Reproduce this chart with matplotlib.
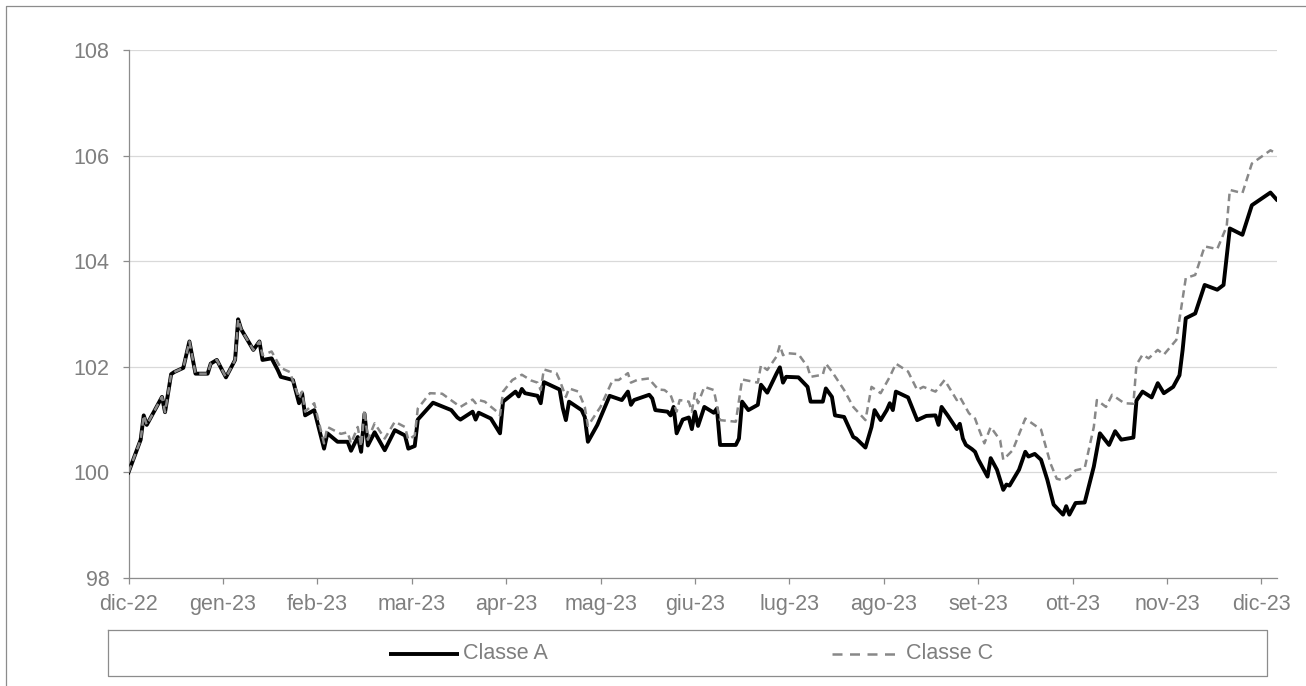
import calendar
import datetime as dt

import matplotlib
matplotlib.use("Agg")
import matplotlib.pyplot as plt

# ---------------------------------------------------------------- data
month_labels = ["dic-22", "gen-23", "feb-23", "mar-23", "apr-23", "mag-23", "giu-23",
                "lug-23", "ago-23", "set-23", "ott-23", "nov-23", "dic-23"]

series_names = ["Classe A", "Classe C"]

a_dates = [
    "2022-12-01", "2022-12-05", "2022-12-06", "2022-12-07", "2022-12-12", "2022-12-13",
    "2022-12-15", "2022-12-16", "2022-12-19", "2022-12-21", "2022-12-23", "2022-12-27",
    "2022-12-28", "2022-12-30", "2023-01-02", "2023-01-05", "2023-01-06", "2023-01-07",
    "2023-01-11", "2023-01-13", "2023-01-14", "2023-01-17", "2023-01-19", "2023-01-20",
    "2023-01-24", "2023-01-26", "2023-01-27", "2023-01-28", "2023-01-31", "2023-02-03",
    "2023-02-04", "2023-02-07", "2023-02-10", "2023-02-11", "2023-02-13", "2023-02-14",
    "2023-02-15", "2023-02-16", "2023-02-18", "2023-02-21", "2023-02-24", "2023-02-27",
    "2023-02-28", "2023-03-02", "2023-03-03", "2023-03-08", "2023-03-14", "2023-03-16",
    "2023-03-17", "2023-03-21", "2023-03-22", "2023-03-23", "2023-03-27", "2023-03-30",
    "2023-03-31", "2023-04-04", "2023-04-05", "2023-04-06", "2023-04-07", "2023-04-11",
    "2023-04-12", "2023-04-13", "2023-04-18", "2023-04-19", "2023-04-20", "2023-04-21",
    "2023-04-25", "2023-04-26", "2023-04-27", "2023-04-30", "2023-05-04", "2023-05-08",
    "2023-05-10", "2023-05-11", "2023-05-12", "2023-05-17", "2023-05-18", "2023-05-19",
    "2023-05-23", "2023-05-24", "2023-05-25", "2023-05-26", "2023-05-28", "2023-05-30",
    "2023-05-31", "2023-06-01", "2023-06-02", "2023-06-04", "2023-06-07", "2023-06-08",
    "2023-06-09", "2023-06-14", "2023-06-15", "2023-06-16", "2023-06-18", "2023-06-21",
    "2023-06-22", "2023-06-24", "2023-06-27", "2023-06-28", "2023-06-29", "2023-06-30",
    "2023-07-04", "2023-07-07", "2023-07-08", "2023-07-12", "2023-07-13", "2023-07-15",
    "2023-07-16", "2023-07-19", "2023-07-22", "2023-07-23", "2023-07-26", "2023-07-28",
    "2023-07-29", "2023-07-31", "2023-08-02", "2023-08-03", "2023-08-04", "2023-08-05",
    "2023-08-09", "2023-08-12", "2023-08-15", "2023-08-18", "2023-08-19", "2023-08-20",
    "2023-08-22", "2023-08-25", "2023-08-26", "2023-08-27", "2023-08-28", "2023-08-30",
    "2023-08-31", "2023-09-01", "2023-09-04", "2023-09-05", "2023-09-07", "2023-09-09",
    "2023-09-10", "2023-09-11", "2023-09-14", "2023-09-16", "2023-09-17", "2023-09-19",
    "2023-09-21", "2023-09-23", "2023-09-25", "2023-09-28", "2023-09-29", "2023-09-30",
    "2023-10-02", "2023-10-05", "2023-10-08", "2023-10-10", "2023-10-13", "2023-10-15",
    "2023-10-17", "2023-10-21", "2023-10-22", "2023-10-24", "2023-10-27", "2023-10-29",
    "2023-10-31", "2023-11-03", "2023-11-05", "2023-11-06", "2023-11-07", "2023-11-10",
    "2023-11-13", "2023-11-17", "2023-11-19", "2023-11-21", "2023-11-25", "2023-11-28",
    "2023-12-04", "2023-12-06",
]
a_values = [
    100.00, 100.62, 101.08, 100.90, 101.43, 101.14,
    101.86, 101.90, 101.98, 102.48, 101.87, 101.87,
    102.06, 102.13, 101.80, 102.13, 102.90, 102.71,
    102.32, 102.48, 102.13, 102.16, 101.94, 101.81,
    101.75, 101.31, 101.50, 101.08, 101.18, 100.45,
    100.74, 100.58, 100.58, 100.41, 100.67, 100.39,
    101.11, 100.51, 100.76, 100.42, 100.80, 100.70,
    100.45, 100.50, 101.00, 101.32, 101.18, 101.04,
    101.00, 101.15, 101.00, 101.13, 101.02, 100.74,
    101.34, 101.53, 101.44, 101.58, 101.50, 101.45,
    101.31, 101.71, 101.57, 101.22, 100.99, 101.34,
    101.18, 101.05, 100.58, 100.90, 101.45, 101.37,
    101.53, 101.28, 101.37, 101.47, 101.40, 101.18,
    101.15, 101.08, 101.24, 100.74, 101.00, 101.04,
    100.82, 101.15, 100.88, 101.24, 101.13, 101.21,
    100.52, 100.52, 100.64, 101.34, 101.18, 101.28,
    101.66, 101.51, 101.88, 101.99, 101.70, 101.81,
    101.80, 101.62, 101.34, 101.34, 101.59, 101.43,
    101.08, 101.05, 100.67, 100.64, 100.47, 100.86,
    101.18, 100.99, 101.18, 101.31, 101.18, 101.53,
    101.42, 100.99, 101.07, 101.08, 100.90, 101.24,
    101.08, 100.82, 100.92, 100.64, 100.52, 100.44,
    100.39, 100.25, 99.92, 100.27, 100.05, 99.67,
    99.77, 99.75, 100.05, 100.39, 100.30, 100.35,
    100.24, 99.86, 99.39, 99.20, 99.36, 99.20,
    99.42, 99.43, 100.11, 100.74, 100.52, 100.78,
    100.62, 100.66, 101.36, 101.53, 101.42, 101.69,
    101.50, 101.62, 101.84, 102.32, 102.92, 103.01,
    103.55, 103.46, 103.55, 104.62, 104.50, 105.06,
    105.30, 105.17,
]

c_dates = [
    "2022-12-01", "2022-12-05", "2022-12-06", "2022-12-07", "2022-12-12", "2022-12-13",
    "2022-12-15", "2022-12-16", "2022-12-19", "2022-12-21", "2022-12-23", "2022-12-27",
    "2022-12-28", "2022-12-30", "2023-01-02", "2023-01-05", "2023-01-06", "2023-01-07",
    "2023-01-11", "2023-01-13", "2023-01-14", "2023-01-17", "2023-01-20", "2023-01-23",
    "2023-01-26", "2023-01-27", "2023-01-28", "2023-01-31", "2023-02-03", "2023-02-04",
    "2023-02-08", "2023-02-10", "2023-02-11", "2023-02-13", "2023-02-14", "2023-02-15",
    "2023-02-16", "2023-02-18", "2023-02-21", "2023-02-24", "2023-02-27", "2023-02-28",
    "2023-03-02", "2023-03-03", "2023-03-07", "2023-03-11", "2023-03-16", "2023-03-17",
    "2023-03-21", "2023-03-22", "2023-03-23", "2023-03-25", "2023-03-29", "2023-03-30",
    "2023-03-31", "2023-04-03", "2023-04-06", "2023-04-09", "2023-04-11", "2023-04-12",
    "2023-04-13", "2023-04-17", "2023-04-18", "2023-04-20", "2023-04-21", "2023-04-24",
    "2023-04-26", "2023-04-27", "2023-05-01", "2023-05-05", "2023-05-07", "2023-05-10",
    "2023-05-11", "2023-05-13", "2023-05-17", "2023-05-18", "2023-05-20", "2023-05-22",
    "2023-05-24", "2023-05-26", "2023-05-27", "2023-05-30", "2023-05-31", "2023-06-01",
    "2023-06-02", "2023-06-04", "2023-06-07", "2023-06-09", "2023-06-14", "2023-06-16",
    "2023-06-21", "2023-06-22", "2023-06-24", "2023-06-27", "2023-06-28", "2023-06-29",
    "2023-06-30", "2023-07-04", "2023-07-07", "2023-07-08", "2023-07-12", "2023-07-13",
    "2023-07-15", "2023-07-19", "2023-07-22", "2023-07-26", "2023-07-28", "2023-07-31",
    "2023-08-03", "2023-08-05", "2023-08-09", "2023-08-12", "2023-08-14", "2023-08-18",
    "2023-08-21", "2023-08-25", "2023-08-26", "2023-08-29", "2023-08-31", "2023-09-01",
    "2023-09-03", "2023-09-05", "2023-09-08", "2023-09-09", "2023-09-12", "2023-09-16",
    "2023-09-21", "2023-09-24", "2023-09-26", "2023-09-28", "2023-09-30", "2023-10-02",
    "2023-10-05", "2023-10-08", "2023-10-09", "2023-10-12", "2023-10-14", "2023-10-18",
    "2023-10-21", "2023-10-22", "2023-10-24", "2023-10-26", "2023-10-29", "2023-10-31",
    "2023-11-04", "2023-11-07", "2023-11-10", "2023-11-13", "2023-11-17", "2023-11-20",
    "2023-11-21", "2023-11-25", "2023-11-28", "2023-12-04", "2023-12-05",
]
c_values = [
    100.00, 100.62, 101.08, 100.90, 101.43, 101.14,
    101.86, 101.90, 101.98, 102.48, 101.87, 101.87,
    102.06, 102.13, 101.80, 102.13, 102.90, 102.71,
    102.32, 102.48, 102.22, 102.29, 101.98, 101.90,
    101.40, 101.53, 101.15, 101.31, 100.55, 100.86,
    100.73, 100.76, 100.55, 100.86, 100.49, 101.18,
    100.62, 100.93, 100.64, 100.96, 100.86, 100.62,
    100.70, 101.21, 101.50, 101.49, 101.28, 101.24,
    101.38, 101.31, 101.37, 101.34, 101.15, 101.08,
    101.53, 101.75, 101.85, 101.74, 101.70, 101.56,
    101.95, 101.88, 101.75, 101.43, 101.59, 101.53,
    101.24, 100.88, 101.24, 101.75, 101.75, 101.88,
    101.70, 101.75, 101.78, 101.70, 101.57, 101.56,
    101.47, 101.15, 101.37, 101.34, 101.15, 101.50,
    101.31, 101.62, 101.56, 100.99, 100.96, 101.76,
    101.70, 102.03, 101.94, 102.20, 102.41, 102.22,
    102.26, 102.24, 102.00, 101.81, 101.85, 102.06,
    101.91, 101.56, 101.24, 100.99, 101.62, 101.50,
    101.81, 102.06, 101.91, 101.56, 101.62, 101.53,
    101.75, 101.37, 101.43, 101.12, 101.02, 100.86,
    100.55, 100.86, 100.61, 100.24, 100.42, 101.02,
    100.81, 100.17, 99.88, 99.85, 99.92, 100.04,
    100.08, 100.86, 101.37, 101.24, 101.47, 101.31,
    101.30, 102.04, 102.23, 102.16, 102.32, 102.23,
    102.51, 103.68, 103.74, 104.28, 104.23, 104.66,
    105.35, 105.29, 105.85, 106.10, 106.07,
]

y_ticks = [98, 100, 102, 104, 106, 108]


def month_pos(iso):
    """Position on an axis where every calendar month has the same width."""
    d = dt.date.fromisoformat(iso)
    idx = (d.year - 2022) * 12 + d.month - 12
    ndays = calendar.monthrange(d.year, d.month)[1]
    return idx + (d.day - 1) / ndays


# ---------------------------------------------------------------- styling
W, H = 1306, 686
GRAY_TXT = "#7f7f7f"
GRAY_LINE = "#8c8c8c"
C_COLOR = "#888888"
FS = 15.5
plt.rcParams["font.family"] = ["Liberation Sans", "DejaVu Sans"]

fig = plt.figure(figsize=(W / 100, H / 100), dpi=100)
fig.patch.set_facecolor("white")

ax_left, ax_right, ax_top, ax_bottom = 128.5, 1277, 50, 578
ax = fig.add_axes([ax_left / W, 1 - ax_bottom / H,
                   (ax_right - ax_left) / W, (ax_bottom - ax_top) / H])

a_x = [month_pos(s) for s in a_dates]
c_x = [month_pos(s) for s in c_dates]

ax.plot(a_x, a_values, color="black", lw=2.8, solid_joinstyle="round", zorder=3)
ax.plot(c_x, c_values, color=C_COLOR, lw=1.8, dashes=(3.0, 1.9),
        dash_joinstyle="round", zorder=4)

xmax = (ax_right - ax_left) / 94.4
ax.set_xlim(0, xmax)
ax.set_ylim(98, 108)
ax.set_xticks(range(len(month_labels)))
ax.set_xticklabels(month_labels)
ax.set_yticks(y_ticks)
ax.set_yticklabels([str(v) for v in y_ticks])

ax.grid(axis="y", color="#d9d9d9", lw=0.9, zorder=0)
ax.set_axisbelow(True)
for side in ("top", "right"):
    ax.spines[side].set_visible(False)
for side in ("left", "bottom"):
    ax.spines[side].set_color(GRAY_LINE)
    ax.spines[side].set_linewidth(0.9)

ax.tick_params(axis="both", colors=GRAY_LINE, labelcolor=GRAY_TXT,
               labelsize=FS, length=4.3, width=0.9, direction="out")
ax.tick_params(axis="y", pad=9.5)
ax.tick_params(axis="x", pad=7)

# ---------------------------------------------------------------- frame and legend
ov = fig.add_axes([0, 0, 1, 1], zorder=5)
ov.set_xlim(0, W)
ov.set_ylim(H, 0)
ov.axis("off")

# outer chart-area border (left and top edges are inside the canvas)
ov.plot([6, 6, W + 5], [H + 5, 6, 6], color=GRAY_LINE, lw=0.9)

# legend box
ov.plot([108, 1267, 1267, 108, 108], [630, 630, 676, 676, 630], color=GRAY_LINE, lw=0.9)
ov.plot([389, 459], [654, 654], color="black", lw=2.8, solid_capstyle="butt")
ov.text(463, 653.5, series_names[0], fontsize=FS, color=GRAY_TXT, va="center", ha="left")
ov.plot([832, 899], [654, 654], color=C_COLOR, lw=1.8, dashes=(4.0, 3.0),
        solid_capstyle="butt")
ov.text(906, 653.5, series_names[1], fontsize=FS, color=GRAY_TXT, va="center", ha="left")

fig.savefig("out.png", dpi=100, facecolor="white")
